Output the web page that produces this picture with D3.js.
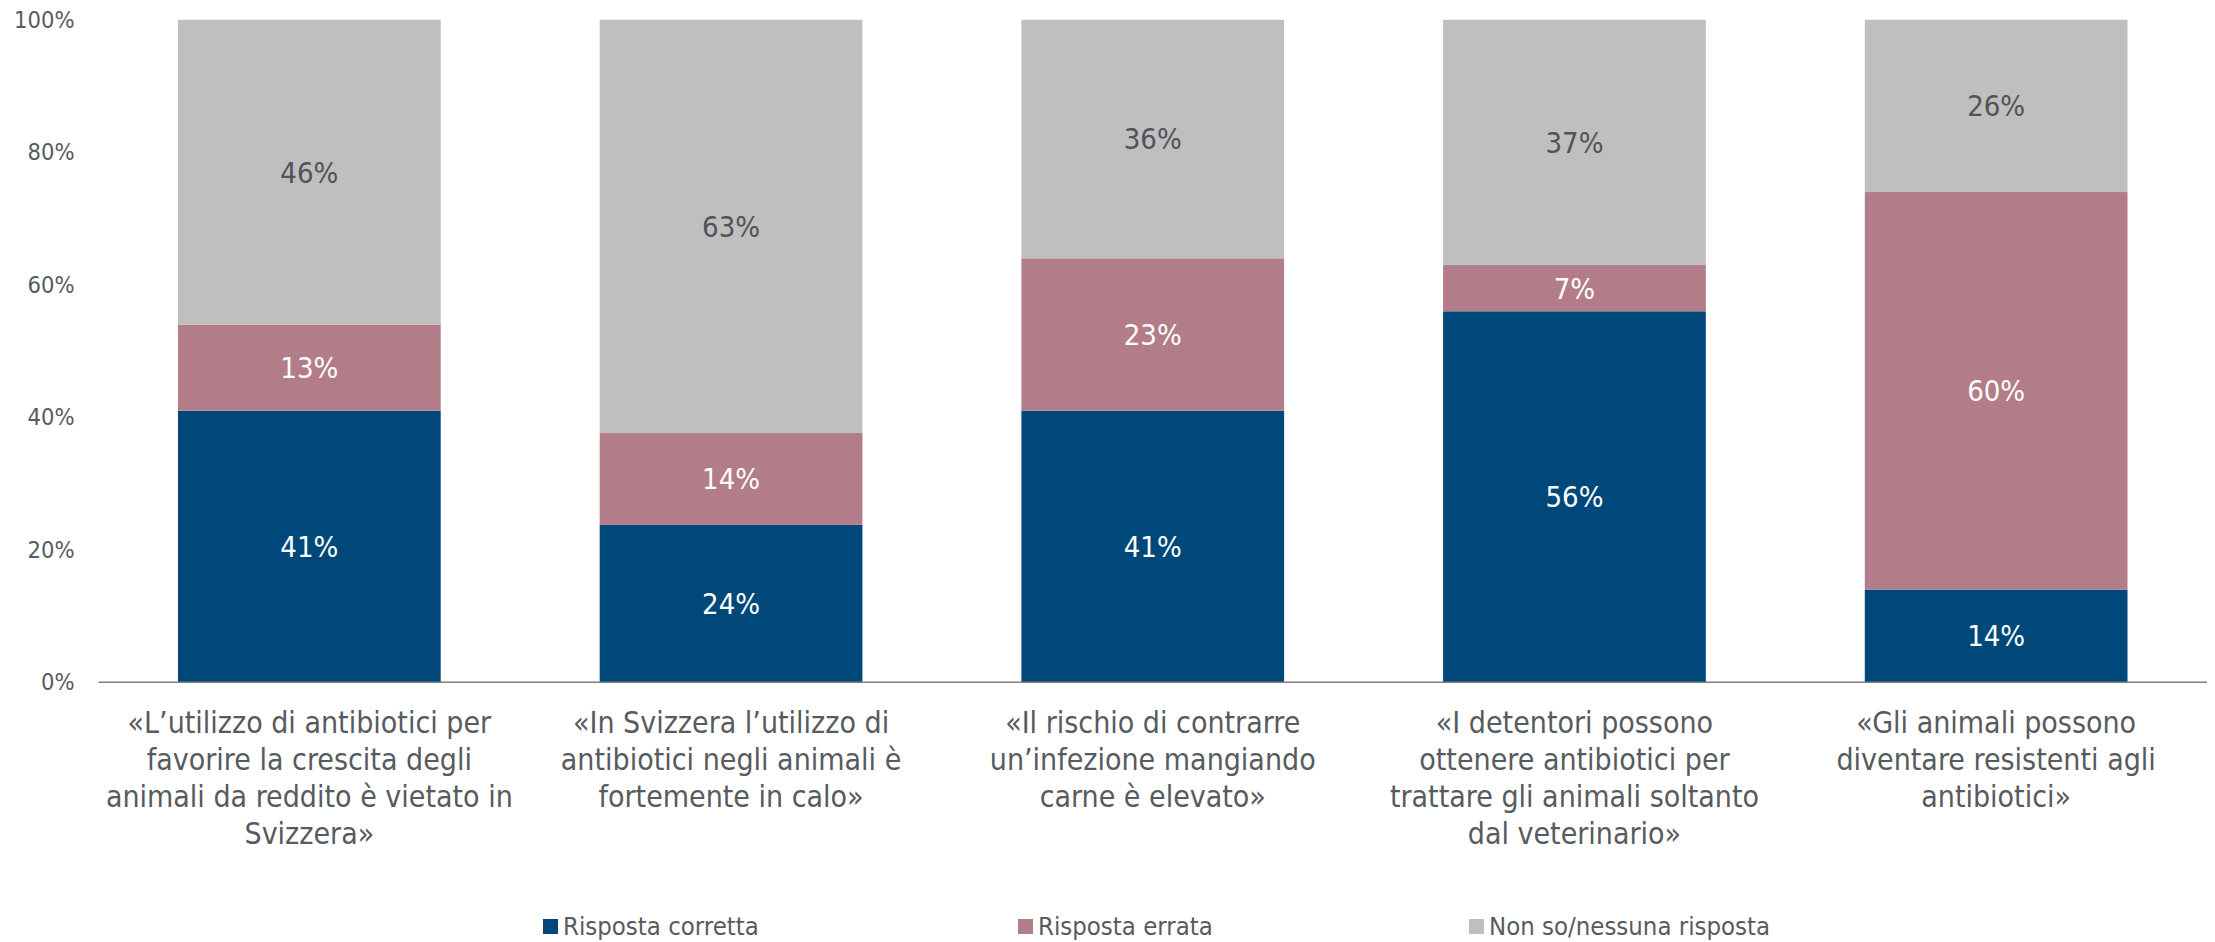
<!DOCTYPE html>
<html>
<head>
<meta charset="utf-8">
<script src="https://cdn.jsdelivr.net/npm/d3@7"></script>
<style>
  html, body { margin: 0; padding: 0; background: #ffffff; }
  svg { display: block; }
  text { font-family: "DejaVu Sans Condensed", "DejaVu Sans", sans-serif; }
</style>
</head>
<body>
<svg id="chart" width="2215" height="942"></svg>
<script>
// ---------- DATA ----------
const categories = [
  ["«L’utilizzo di antibiotici per", "favorire la crescita degli", "animali da reddito è vietato in", "Svizzera»"],
  ["«In Svizzera l’utilizzo di", "antibiotici negli animali è", "fortemente in calo»"],
  ["«Il rischio di contrarre", "un’infezione mangiando", "carne è elevato»"],
  ["«I detentori possono", "ottenere antibiotici per", "trattare gli animali soltanto", "dal veterinario»"],
  ["«Gli animali possono", "diventare resistenti agli", "antibiotici»"]
];
const seriesNames = ["Risposta corretta", "Risposta errata", "Non so/nessuna risposta"];
const corretta = [41, 24, 41, 56, 14];
const errata   = [13, 14, 23, 7, 60];
const nonSo    = [46, 63, 36, 37, 26];
const yTicks = [0, 0.2, 0.4, 0.6, 0.8, 1.0];
const colors = ["#00477A", "#B27C88", "#BFBFBF"];
const labelColors = ["#FFFFFF", "#FFFFFF", "#505359"];

// ---------- LAYOUT ----------
const svg = d3.select("#chart");
const plot = { left: 98.5, right: 2207, top: 19.8, bottom: 682.3 };
const textColor = "#575B60";

const rows = categories.map((c, i) => ({
  idx: i,
  [seriesNames[0]]: corretta[i],
  [seriesNames[1]]: errata[i],
  [seriesNames[2]]: nonSo[i]
}));

const stack = d3.stack().keys(seriesNames).offset(d3.stackOffsetExpand);
const stacked = stack(rows);

const x = d3.scaleBand()
  .domain(d3.range(categories.length))
  .range([plot.left, plot.right])
  .paddingInner(0.377)
  .paddingOuter(0.377 / 2);

const y = d3.scaleLinear().domain([0, 1]).range([plot.bottom, plot.top]);

// Y axis (labels only)
const yAxis = d3.axisLeft(y)
  .tickValues(yTicks)
  .tickSize(0)
  .tickPadding(24)
  .tickFormat(d3.format(".0%"));

const gy = svg.append("g")
  .attr("transform", `translate(${plot.left},0)`)
  .call(yAxis);
gy.select(".domain").remove();
gy.selectAll("text")
  .attr("fill", textColor)
  .style("font-size", "23.5px")
  .style("font-family", "'DejaVu Sans Condensed', 'DejaVu Sans', sans-serif");

// Bars
const layers = svg.append("g").selectAll("g")
  .data(stacked)
  .join("g")
  .attr("fill", (d, i) => colors[i]);

layers.selectAll("rect")
  .data(d => d)
  .join("rect")
  .attr("x", d => x(d.data.idx))
  .attr("width", x.bandwidth())
  .attr("y", d => y(d[1]))
  .attr("height", d => y(d[0]) - y(d[1]));

// Data labels
stacked.forEach((layer, si) => {
  svg.append("g").selectAll("text")
    .data(layer)
    .join("text")
    .attr("x", d => x(d.data.idx) + x.bandwidth() / 2)
    .attr("y", d => y((d[0] + d[1]) / 2))
    .attr("dy", "0.36em")
    .attr("text-anchor", "middle")
    .attr("fill", labelColors[si])
    .style("font-size", "29px")
    .text(d => d.data[layer.key] + "%");
});

// X axis line
const xAxis = d3.axisBottom(x).tickSize(0).tickFormat("");
const gx = svg.append("g")
  .attr("transform", `translate(0,${plot.bottom})`)
  .call(xAxis);
gx.select(".domain")
  .attr("stroke", "#7F7F7F")
  .attr("stroke-width", 1.5)
  .attr("d", `M${plot.left},0H${plot.right}`);

// Category labels (multi-line)
const catG = svg.append("g");
categories.forEach((lines, i) => {
  const t = catG.append("text")
    .attr("text-anchor", "middle")
    .attr("fill", textColor)
    .style("font-size", "30px");
  lines.forEach((ln, k) => {
    t.append("tspan")
      .attr("x", x(i) + x.bandwidth() / 2)
      .attr("y", 733 + k * 37)
      .text(ln);
  });
});

// Legend
const legendX = [543, 1018, 1469];
const legend = svg.append("g");
seriesNames.forEach((name, i) => {
  const g = legend.append("g").attr("transform", `translate(${legendX[i]},0)`);
  g.append("rect")
    .attr("x", 0).attr("y", 919)
    .attr("width", 15).attr("height", 15)
    .attr("fill", colors[i]);
  g.append("text")
    .attr("x", 20).attr("y", 935)
    .attr("fill", textColor)
    .style("font-size", "25.5px")
    .text(name);
});
</script>
</body>
</html>
